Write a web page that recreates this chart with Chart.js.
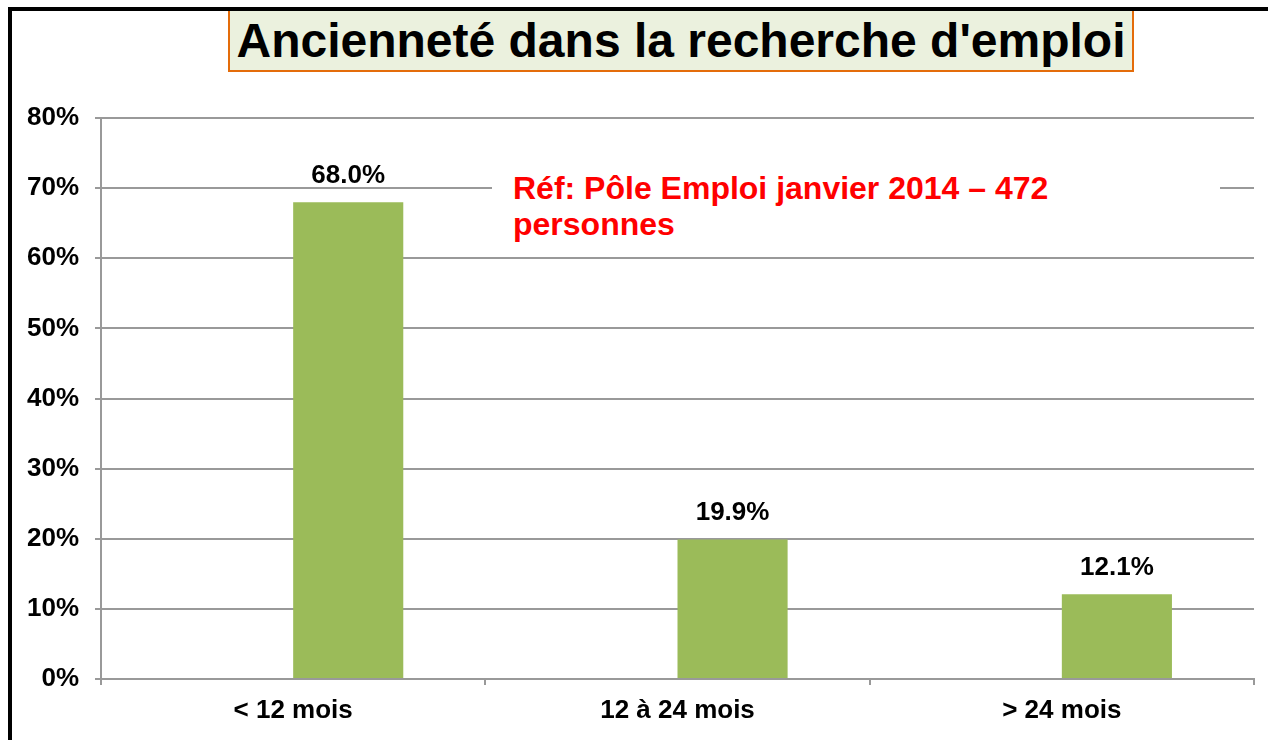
<!DOCTYPE html>
<html>
<head>
<meta charset="utf-8">
<script src="https://cdn.jsdelivr.net/npm/chart.js@4"></script>
<style>
  html, body { margin: 0; padding: 0; background: #fff; overflow: hidden; }
  body { width: 1268px; height: 740px; position: relative; font-family: "Liberation Sans", Arial, sans-serif; }
  #myChart { position: absolute; left: 0; top: 0; }
  .frame { position: absolute; left: 8px; top: 7px; width: 1300px; height: 800px; border: 4px solid #000; z-index: 3; pointer-events: none; }
  .title { position: absolute; left: 228px; top: 8px; width: 902px; height: 60px; background: #EBF1DE; border: 2px solid #E46C0A; z-index: 2;
           font-weight: bold; font-size: 48px; line-height: 62px; text-align: center; color: #000; white-space: nowrap; }
  .note { position: absolute; left: 492px; top: 170px; width: 707px; height: 85px; padding: 0 0 0 21px; background: #fff; z-index: 2;
          font-weight: bold; font-size: 32px; line-height: 36px; color: #FF0000; }
</style>
</head>
<body>
<canvas id="myChart" width="1268" height="740"></canvas>
<div class="frame"></div>
<div class="title">Ancienneté dans la recherche d'emploi</div>
<div class="note">Réf: Pôle Emploi janvier 2014 – 472<br>personnes</div>
<script>
const categories = ['< 12 mois', '12 à 24 mois', '> 24 mois'];
const values = [68.0, 19.9, 12.1];
const spacer = [null, null, null]; // empty series, like the original sheet
const yTicks = [0, 10, 20, 30, 40, 50, 60, 70, 80];

const ctx = document.getElementById('myChart').getContext('2d');
const font = "'Liberation Sans', Arial, sans-serif";
const gridGrey = '#999999';

// value labels above the bars
const barLabels = {
    id: 'barLabels',
    afterDatasetsDraw(chart) {
        const c = chart.ctx;
        const meta = chart.getDatasetMeta(1);
        c.save();
        c.font = 'bold 26px ' + font;
        c.fillStyle = '#000';
        c.textAlign = 'center';
        c.textBaseline = 'alphabetic';
        meta.data.forEach((bar, i) => {
            c.fillText(values[i].toFixed(1) + '%', bar.x, bar.y - 19);
        });
        c.restore();
    }
};

const myChart = new Chart(ctx, {
    type: 'bar',
    data: {
        labels: categories,
        datasets: [{
            label: '',
            data: spacer,
            backgroundColor: 'rgba(0,0,0,0)'
        }, {
            label: 'Ancienneté',
            data: values,
            backgroundColor: '#9BBB59',
            borderWidth: 0
        }]
    },
    options: {
        responsive: false,
        devicePixelRatio: 1,
        animation: false,
        categoryPercentage: 0.573,
        barPercentage: 1,
        layout: { padding: { left: 0, right: 14, top: 118, bottom: 0 } },
        plugins: {
            legend: { display: false },
            tooltip: { enabled: false }
        },
        scales: {
            x: {
                grid: { drawOnChartArea: false, drawTicks: true, tickLength: 6, color: gridGrey, lineWidth: 2 },
                border: { display: true, color: gridGrey, width: 2 },
                ticks: { color: '#000', font: { family: font, size: 26, weight: 'bold' }, padding: 10, maxRotation: 0 },
                afterFit: scale => { scale.height = 61; }
            },
            y: {
                min: 0,
                max: 80,
                afterBuildTicks: scale => { scale.ticks = yTicks.map(v => ({ value: v })); },
                grid: { color: gridGrey, lineWidth: 2, tickLength: 6 },
                border: { display: true, color: gridGrey, width: 2 },
                ticks: {
                    color: '#000',
                    font: { family: font, size: 26, weight: 'bold' },
                    padding: 16,
                    callback: v => v + '%'
                },
                afterFit: scale => { scale.width = 101; }
            }
        }
    },
    plugins: [barLabels]
});
</script>
</body>
</html>
